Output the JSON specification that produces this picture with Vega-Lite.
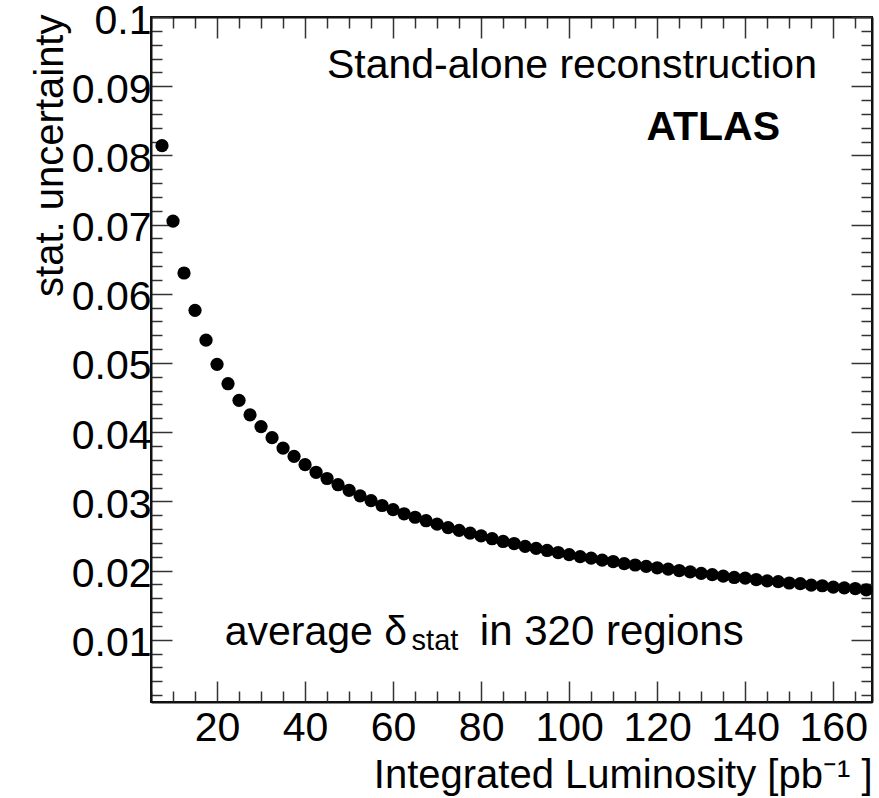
{
  "$schema": "https://vega.github.io/schema/vega-lite/v6.json",
  "width": 721,
  "height": 685,
  "autosize": {"type": "none"},
  "padding": {"left": 151, "top": 17, "right": 7, "bottom": 96},
  "background": "white",
  "config": {
    "view": {"stroke": "#111", "strokeWidth": 2},
    "font": "Liberation Sans",
    "axis": {
      "domainColor": "#111",
      "domainWidth": 2,
      "tickColor": "#333",
      "tickWidth": 1.5,
      "grid": false,
      "labelFont": "Liberation Sans",
      "labelFontSize": 41,
      "labelColor": "black",
      "titleFont": "Liberation Sans",
      "titleFontSize": 40,
      "titleFontWeight": "normal",
      "titleColor": "black"
    }
  },
  "data": {
    "values": [
      {"lumi": 7.5, "unc": 0.0814},
      {"lumi": 10, "unc": 0.0705},
      {"lumi": 12.5, "unc": 0.0630},
      {"lumi": 15, "unc": 0.0576},
      {"lumi": 17.5, "unc": 0.0533},
      {"lumi": 20, "unc": 0.0498},
      {"lumi": 22.5, "unc": 0.0470},
      {"lumi": 25, "unc": 0.0446},
      {"lumi": 27.5, "unc": 0.0425},
      {"lumi": 30, "unc": 0.0408},
      {"lumi": 32.5, "unc": 0.0392},
      {"lumi": 35, "unc": 0.0377},
      {"lumi": 37.5, "unc": 0.0365},
      {"lumi": 40, "unc": 0.0353},
      {"lumi": 42.5, "unc": 0.0342},
      {"lumi": 45, "unc": 0.0333},
      {"lumi": 47.5, "unc": 0.0324},
      {"lumi": 50, "unc": 0.0316},
      {"lumi": 52.5, "unc": 0.0308},
      {"lumi": 55, "unc": 0.0301},
      {"lumi": 57.5, "unc": 0.0294},
      {"lumi": 60, "unc": 0.0288},
      {"lumi": 62.5, "unc": 0.0282},
      {"lumi": 65, "unc": 0.0277},
      {"lumi": 67.5, "unc": 0.0272},
      {"lumi": 70, "unc": 0.0267},
      {"lumi": 72.5, "unc": 0.0262},
      {"lumi": 75, "unc": 0.0258},
      {"lumi": 77.5, "unc": 0.0254},
      {"lumi": 80, "unc": 0.0250},
      {"lumi": 82.5, "unc": 0.0246},
      {"lumi": 85, "unc": 0.0242},
      {"lumi": 87.5, "unc": 0.0239},
      {"lumi": 90, "unc": 0.0235},
      {"lumi": 92.5, "unc": 0.0232},
      {"lumi": 95, "unc": 0.0229},
      {"lumi": 97.5, "unc": 0.0226},
      {"lumi": 100, "unc": 0.0223},
      {"lumi": 102.5, "unc": 0.0220},
      {"lumi": 105, "unc": 0.0218},
      {"lumi": 107.5, "unc": 0.0215},
      {"lumi": 110, "unc": 0.0213},
      {"lumi": 112.5, "unc": 0.0210},
      {"lumi": 115, "unc": 0.0208},
      {"lumi": 117.5, "unc": 0.0206},
      {"lumi": 120, "unc": 0.0204},
      {"lumi": 122.5, "unc": 0.0202},
      {"lumi": 125, "unc": 0.0200},
      {"lumi": 127.5, "unc": 0.0198},
      {"lumi": 130, "unc": 0.0196},
      {"lumi": 132.5, "unc": 0.0194},
      {"lumi": 135, "unc": 0.0192},
      {"lumi": 137.5, "unc": 0.0190},
      {"lumi": 140, "unc": 0.0189},
      {"lumi": 142.5, "unc": 0.0187},
      {"lumi": 145, "unc": 0.0185},
      {"lumi": 147.5, "unc": 0.0184},
      {"lumi": 150, "unc": 0.0182},
      {"lumi": 152.5, "unc": 0.0181},
      {"lumi": 155, "unc": 0.0179},
      {"lumi": 157.5, "unc": 0.0178},
      {"lumi": 160, "unc": 0.0176},
      {"lumi": 162.5, "unc": 0.0175},
      {"lumi": 165, "unc": 0.0174},
      {"lumi": 167.5, "unc": 0.0172}
    ]
  },
  "resolve": {"axis": {"x": "independent", "y": "independent"}},
  "layer": [
    {
      "mark": {"type": "circle", "size": 175, "fill": "black", "opacity": 1, "strokeWidth": 0},
      "encoding": {
        "x": {
          "field": "lumi", "type": "quantitative",
          "scale": {"domain": [5, 168.8], "nice": false, "zero": false},
          "axis": {
            "orient": "bottom",
            "values": [5,10,15,20,25,30,35,40,45,50,55,60,65,70,75,80,85,90,95,100,105,110,115,120,125,130,135,140,145,150,155,160,165],
            "tickSize": {"condition": {"test": "datum.value % 20 === 0", "value": -21}, "value": -11},
            "labelExpr": "datum.value % 20 === 0 ? datum.label : ''",
            "labelPadding": 59,
            "labelBaseline": "alphabetic",
            "labelFlush": false,
            "labelOverlap": false,
            "title": "Integrated Luminosity [pb⁻¹ ]",
            "titleAnchor": "end",
            "titleAlign": "right",
            "titleBaseline": "alphabetic",
            "titleX": 721,
            "titleY": 85
          }
        },
        "y": {
          "field": "unc", "type": "quantitative",
          "scale": {"domain": [0.001, 0.1], "nice": false, "zero": false},
          "axis": {
            "orient": "left",
            "values": [0.002,0.004,0.006,0.008,0.01,0.012,0.014,0.016,0.018,0.02,0.022,0.024,0.026,0.028,0.03,0.032,0.034,0.036,0.038,0.04,0.042,0.044,0.046,0.048,0.05,0.052,0.054,0.056,0.058,0.06,0.062,0.064,0.066,0.068,0.07,0.072,0.074,0.076,0.078,0.08,0.082,0.084,0.086,0.088,0.09,0.092,0.094,0.096,0.098,0.1],
            "tickSize": {"condition": {"test": "round(datum.value * 1000) % 10 === 0", "value": -21}, "value": -11},
            "labelExpr": "round(datum.value * 1000) % 10 === 0 ? '' + datum.value : ''",
            "labelPadding": 21,
            "labelBaseline": "middle",
            "labelOffset": 4,
            "labelFlush": false,
            "labelOverlap": false,
            "title": "stat. uncertainty",
            "titleAngle": -90,
            "titleAlign": "right",
            "titleBaseline": "alphabetic",
            "titleX": -89,
            "titleY": -3
          }
        }
      }
    },
    {
      "mark": {"type": "circle", "size": 175, "fill": "black", "opacity": 0},
      "encoding": {
        "x": {
          "field": "lumi", "type": "quantitative",
          "axis": {
            "orient": "top",
            "values": [5,10,15,20,25,30,35,40,45,50,55,60,65,70,75,80,85,90,95,100,105,110,115,120,125,130,135,140,145,150,155,160,165],
            "tickSize": {"condition": {"test": "datum.value % 20 === 0", "value": -21}, "value": -11},
            "labels": false,
            "title": null
          }
        },
        "y": {
          "field": "unc", "type": "quantitative",
          "axis": {
            "orient": "right",
            "values": [0.002,0.004,0.006,0.008,0.01,0.012,0.014,0.016,0.018,0.02,0.022,0.024,0.026,0.028,0.03,0.032,0.034,0.036,0.038,0.04,0.042,0.044,0.046,0.048,0.05,0.052,0.054,0.056,0.058,0.06,0.062,0.064,0.066,0.068,0.07,0.072,0.074,0.076,0.078,0.08,0.082,0.084,0.086,0.088,0.09,0.092,0.094,0.096,0.098,0.1],
            "tickSize": {"condition": {"test": "round(datum.value * 1000) % 10 === 0", "value": -21}, "value": -11},
            "labels": false,
            "title": null
          }
        }
      }
    },
    {
      "data": {"values": [{"label": "Stand-alone reconstruction"}]},
      "mark": {"type": "text", "align": "right", "baseline": "alphabetic", "fontSize": 41, "font": "Liberation Sans", "fill": "black"},
      "encoding": {
        "text": {"field": "label"},
        "x": {"datum": 156.3, "type": "quantitative", "axis": null},
        "y": {"datum": 0.0912, "type": "quantitative", "axis": null}
      }
    },
    {
      "data": {"values": [{"label": "ATLAS"}]},
      "mark": {"type": "text", "align": "right", "baseline": "alphabetic", "fontSize": 41, "fontWeight": "bold", "font": "Liberation Sans", "fill": "black"},
      "encoding": {
        "text": {"field": "label"},
        "x": {"datum": 147.9, "type": "quantitative", "axis": null},
        "y": {"datum": 0.0822, "type": "quantitative", "axis": null}
      }
    },
    {
      "data": {"values": [{"label": "average δ"}]},
      "mark": {"type": "text", "align": "left", "baseline": "alphabetic", "fontSize": 41, "font": "Liberation Sans", "fill": "black"},
      "encoding": {
        "text": {"field": "label"},
        "x": {"datum": 21.75, "type": "quantitative", "axis": null},
        "y": {"datum": 0.00925, "type": "quantitative", "axis": null}
      }
    },
    {
      "data": {"values": [{"label": "stat"}]},
      "mark": {"type": "text", "align": "left", "baseline": "alphabetic", "fontSize": 29, "font": "Liberation Sans", "fill": "black"},
      "encoding": {
        "text": {"field": "label"},
        "x": {"datum": 64.2, "type": "quantitative", "axis": null},
        "y": {"datum": 0.00853, "type": "quantitative", "axis": null}
      }
    },
    {
      "data": {"values": [{"label": "in 320 regions"}]},
      "mark": {"type": "text", "align": "left", "baseline": "alphabetic", "fontSize": 42, "font": "Liberation Sans", "fill": "black"},
      "encoding": {
        "text": {"field": "label"},
        "x": {"datum": 79.7, "type": "quantitative", "axis": null},
        "y": {"datum": 0.00925, "type": "quantitative", "axis": null}
      }
    }
  ]
}
